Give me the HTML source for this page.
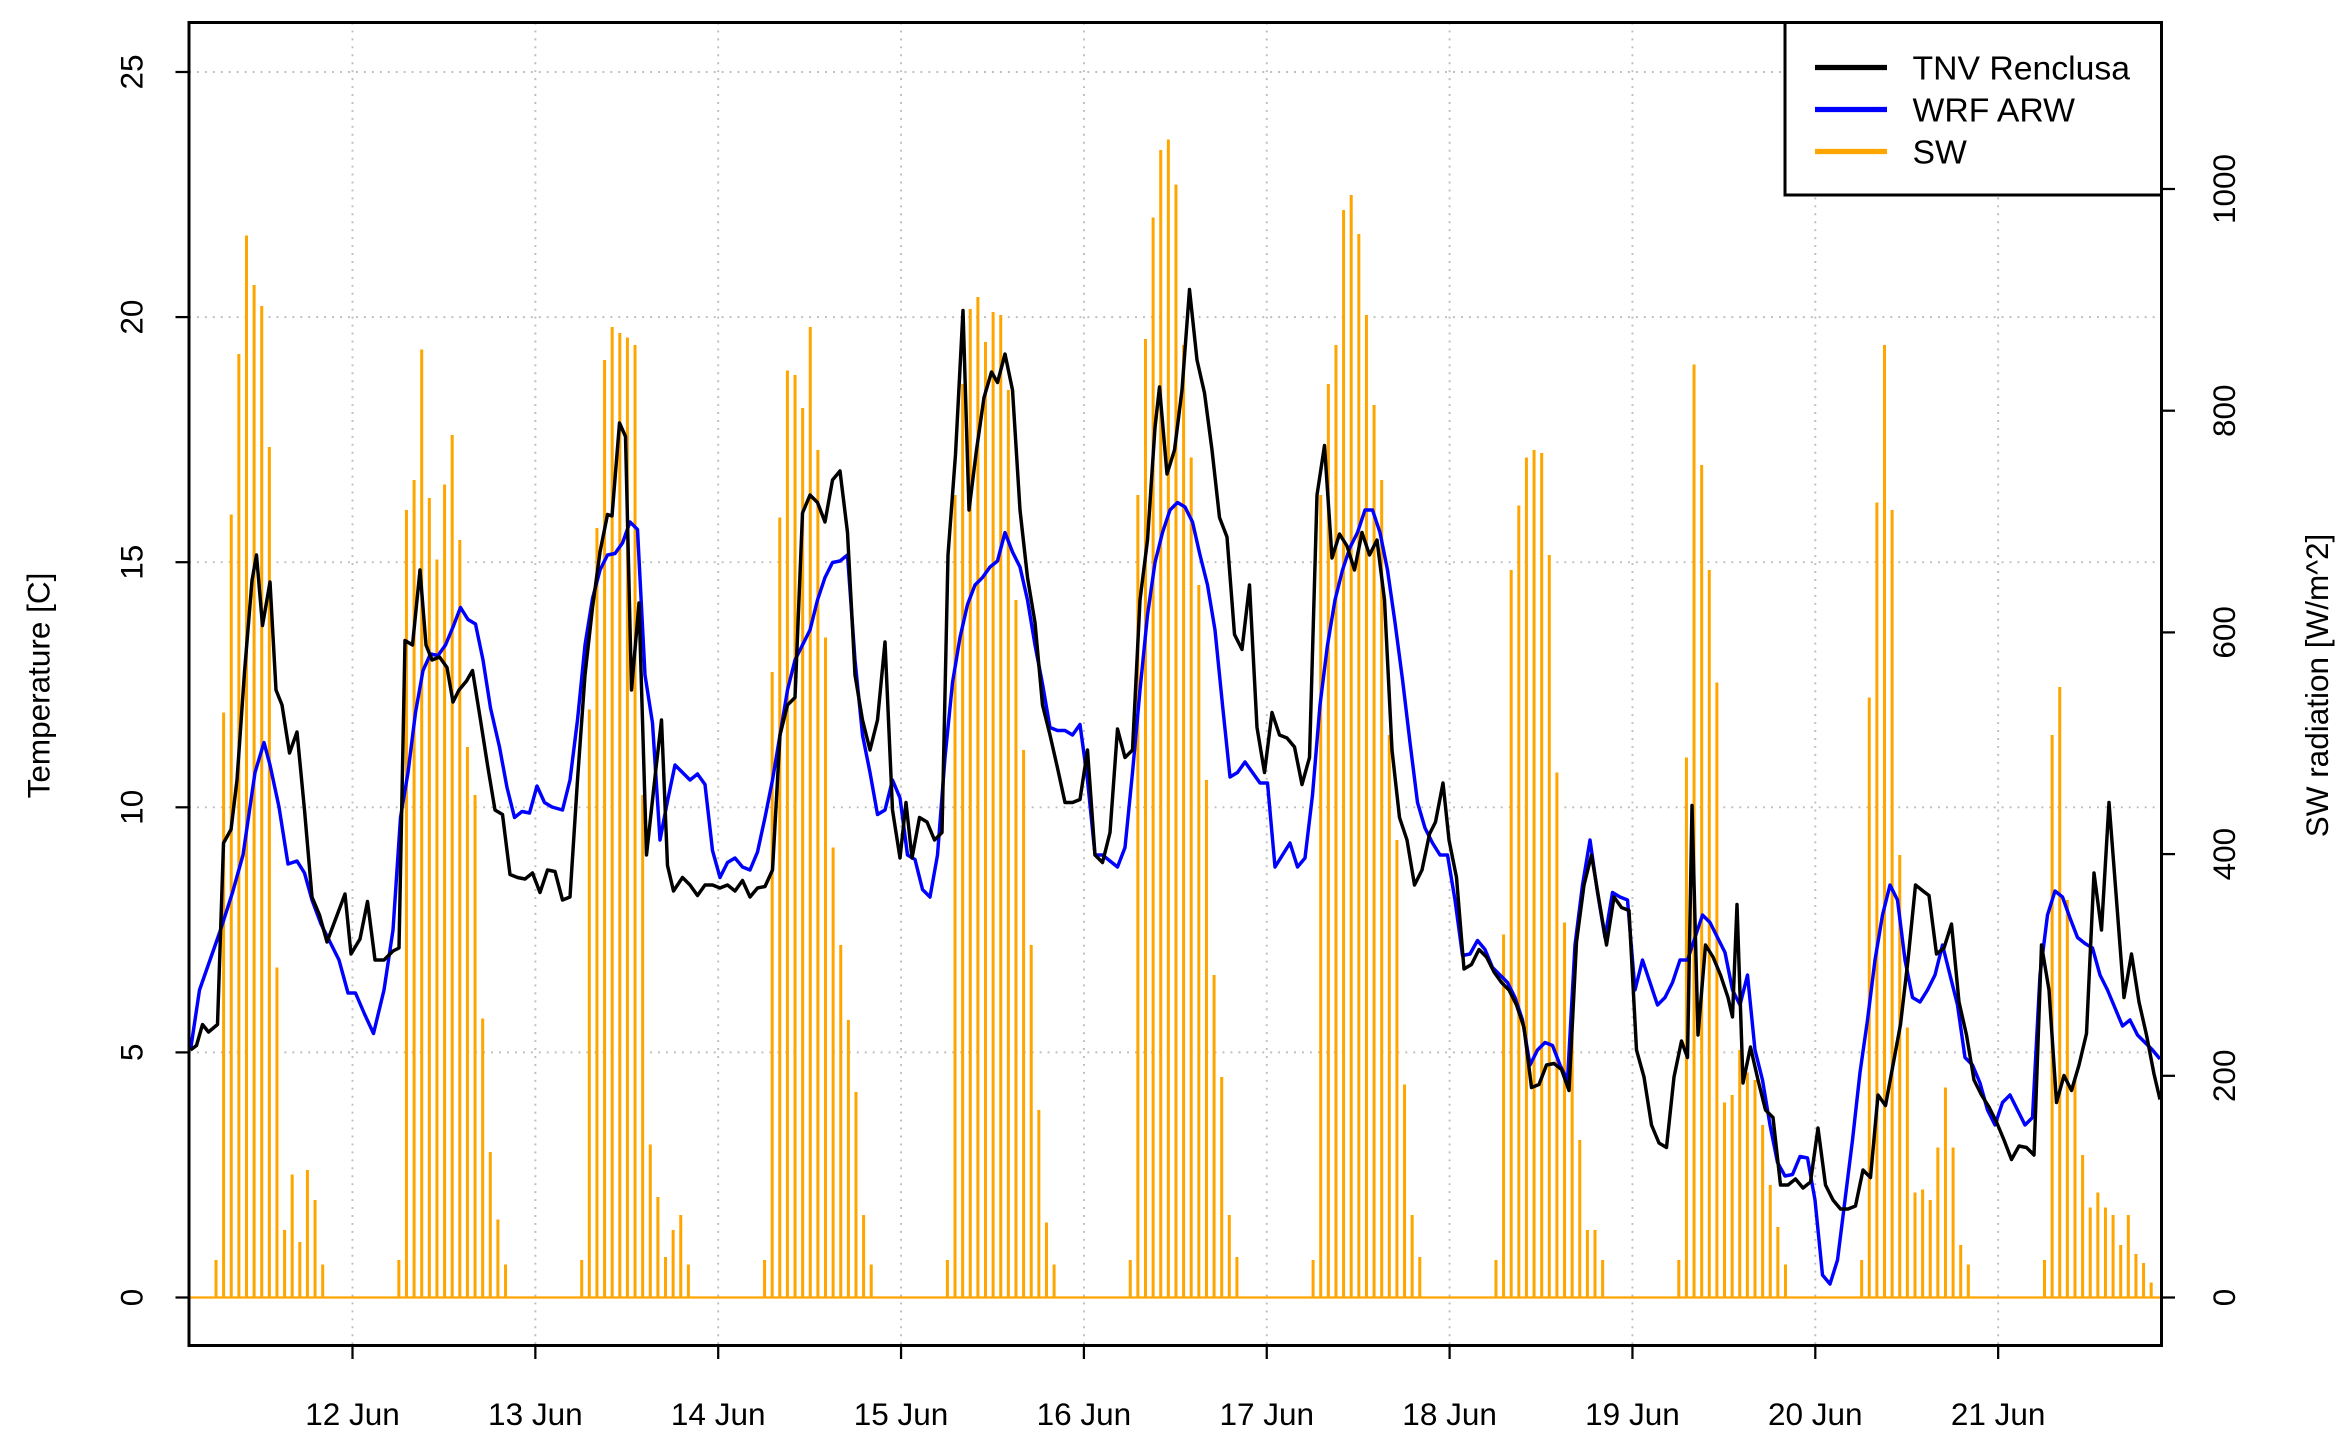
<!DOCTYPE html>
<html><head><meta charset="utf-8"><style>
html,body{margin:0;padding:0;background:#fff;}
svg{display:block;font-family:"Liberation Sans",Arial,sans-serif;}
</style></head><body>
<svg id="s" width="2351" height="1449" viewBox="0 0 1567.33 966" xmlns="http://www.w3.org/2000/svg">
<rect width="1567.33" height="966" fill="#fff"/>
<g id="grid" stroke="#bebebe" stroke-width="1.3" stroke-dasharray="1.3,4"></g>
<g id="bars" stroke="#ffa500" stroke-width="2"></g>
<line x1="127" y1="865" x2="1440" y2="865" stroke="#ffa500" stroke-width="1.5"/>
<polyline id="wrf" fill="none" stroke="#0000ff" stroke-width="2.3" stroke-linejoin="round"/>
<polyline id="tnv" fill="none" stroke="#000" stroke-width="2.3" stroke-linejoin="round"/>
<rect x="126" y="15" width="1315" height="882" fill="none" stroke="#000" stroke-width="2"/>
<g id="ticks" stroke="#000" stroke-width="1.5"></g>
<g id="labels" font-size="21" fill="#000"></g>
<text transform="translate(33,457) rotate(-90)" text-anchor="middle" font-size="21">Temperature [C]</text>
<text transform="translate(1552,457) rotate(-90)" text-anchor="middle" font-size="21">SW radiation [W/m^2]</text>
<rect x="1190" y="15" width="251" height="115" fill="#fff" stroke="#000" stroke-width="2"/>
<line x1="1210" y1="45" x2="1258" y2="45" stroke="#000" stroke-width="3.5"/>
<line x1="1210" y1="73" x2="1258" y2="73" stroke="#0000ff" stroke-width="3.5"/>
<line x1="1210" y1="101" x2="1258" y2="101" stroke="#ffa500" stroke-width="3.5"/>
<text x="1275" y="53" font-size="22.5">TNV Renclusa</text>
<text x="1275" y="81" font-size="22.5">WRF ARW</text>
<text x="1275" y="109" font-size="22.5">SW</text>
</svg>
<script>
var NS="http://www.w3.org/2000/svg";
function el(p,t,a,txt){var e=document.createElementNS(NS,t);for(var k in a)e.setAttribute(k,a[k]);if(txt)e.textContent=txt;document.getElementById(p).appendChild(e);return e;}
for(var d=0;d<10;d++){var x=235+d*121.9;el("grid","line",{x1:x,y1:15,x2:x,y2:897});
el("ticks","line",{x1:x,y1:897,x2:x,y2:906});
el("labels","text",{x:x,y:950,"text-anchor":"middle"},(12+d)+" Jun");}
for(var t=0;t<=25;t+=5){var y=865-t*32.68;el("grid","line",{x1:126,y1:y,x2:1441,y2:y});
el("ticks","line",{x1:126,y1:y,x2:117,y2:y});
el("labels","text",{transform:"translate(95,"+y+") rotate(-90)","text-anchor":"middle"},""+t);}
for(var w=0;w<=1000;w+=200){var y=865-w*0.739;el("ticks","line",{x1:1441,y1:y,x2:1450,y2:y});
el("labels","text",{transform:"translate(1490,"+y+") rotate(-90)","text-anchor":"middle"},""+w);}
var B=[[840,475,343,236,157,190,204,298,645,820,783,828,780,800,843],
[840,340,320,233,332,373,323,290,360,498,530,679,768,813,843],
[840,473,352,240,218,222,225,230,530,763,798,838,820,810,843],
[840,448,345,247,250,272,218,300,425,565,630,680,728,810,843],
[840,330,256,206,198,228,208,210,260,400,500,630,740,815,843],
[840,330,226,145,100,93,123,230,305,390,520,650,718,810,838],
[840,330,256,230,140,130,156,210,270,320,490,560,723,810,838],
[840,623,380,337,305,300,302,370,515,615,690,760,820,820,840],
[840,505,243,310,380,455,735,730,700,715,720,750,790,818,843],
[840,465,335,230,340,570,685,795,793,800,765,725,765,830,843],
[840,490,458,600,720,770,805,795,805,810,830,810,836,842,855]];
for(var d=0;d<B.length;d++)for(var h=0;h<15;h++){var x=113+d*121.9+31+h*5.08;el("bars","line",{x1:x,y1:865,x2:x,y2:B[d][h]});}
document.getElementById("tnv").setAttribute("points","127,700 131,697 135,683 139,688 145,683 149,562 154,553 158,520 163,448 168,387 171,370 175,417 180,388 184,460 188,470 193,502 198,488 203,540 208,598 213,610 218,628 224,612 230,596 234,636 240,626 245,601 250,640 256,640 262,634 266,632 270,427 275,430 280,380 284,430 288,440 293,438 298,445 302,468 306,460 311,454 315,447 320,478 325,510 330,540 335,543 340,583 345,585 350,586 355,582 360,595 365,580 370,581 375,600 380,598 385,520 390,450 395,405 400,368 405,343 408,344 413,282 417,291 421,460 426,402 431,570 437,515 441,480 445,577 449,594 455,585 460,590 465,597 470,590 475,590 480,592 485,590 490,594 495,587 500,598 505,592 510,591 515,580 520,490 525,470 530,465 535,342 540,330 545,335 550,348 555,320 560,314 565,355 570,450 575,480 580,500 585,480 590,428 595,540 600,572 604,535 608,572 613,545 618,548 623,560 628,555 632,370 637,303 642,207 646,340 651,300 656,265 661,248 665,255 670,236 675,260 680,340 685,385 690,415 695,470 700,490 705,512 710,535 715,535 720,533 725,500 730,570 735,575 740,555 745,486 750,505 755,500 760,400 765,360 770,285 773,258 778,316 783,300 788,260 793,193 798,240 803,262 808,300 813,345 818,358 823,423 828,433 833,390 838,485 843,515 848,475 853,490 858,492 863,498 868,523 873,505 878,330 883,297 888,372 893,356 898,364 903,380 908,355 913,370 918,360 923,400 928,500 933,545 938,560 943,590 948,580 953,556 957,548 962,522 966,560 971,585 976,646 981,643 986,633 991,638 996,648 1001,655 1006,660 1011,670 1016,685 1021,725 1026,723 1031,710 1036,709 1041,713 1046,727 1051,628 1056,590 1061,570 1066,600 1071,630 1076,598 1081,605 1086,607 1091,700 1096,718 1101,750 1106,762 1111,765 1116,718 1121,694 1125,705 1128,537 1132,690 1137,630 1142,638 1147,650 1152,665 1155,678 1158,603 1162,722 1167,698 1172,720 1177,740 1182,745 1187,790 1192,790 1197,786 1202,792 1207,788 1212,752 1217,790 1222,800 1227,806 1232,806 1237,804 1242,780 1247,785 1252,730 1257,737 1262,710 1267,683 1272,640 1277,590 1282,594 1286,597 1291,636 1296,632 1301,616 1306,668 1311,690 1316,720 1321,730 1326,738 1331,748 1336,760 1341,773 1346,764 1351,765 1356,770 1361,630 1366,660 1371,735 1376,717 1381,727 1386,710 1391,689 1396,582 1401,620 1406,535 1411,600 1416,665 1421,636 1426,668 1431,690 1436,716 1440,733");
document.getElementById("wrf").setAttribute("points","127,700 133,660 140,640 147,620 155,595 162,570 170,515 176,495 180,510 186,538 192,576 198,574 203,582 208,600 214,616 220,628 226,640 232,662 237,662 243,676 249,689 256,660 262,620 267,545 272,515 277,475 282,447 287,436 292,437 297,430 302,418 307,405 312,413 317,416 322,440 327,472 333,498 338,525 343,545 348,541 353,542 358,524 363,535 368,538 375,540 380,520 385,480 390,430 395,399 400,380 405,370 410,369 415,362 420,348 425,353 430,450 435,482 440,560 445,534 450,510 455,515 460,520 465,516 470,523 475,567 480,585 485,575 490,572 495,578 500,580 505,568 510,545 515,520 520,490 525,460 530,440 535,430 540,420 545,400 550,385 555,375 560,374 565,370 570,440 575,490 580,515 585,543 590,540 595,520 600,532 605,570 610,573 615,593 620,598 625,570 630,505 635,455 640,425 645,403 650,390 655,385 660,378 665,374 670,355 675,368 680,378 685,400 690,430 695,456 700,485 705,487 710,487 715,490 720,483 725,520 730,570 735,570 740,574 745,578 750,565 755,515 760,460 765,410 770,375 775,355 780,340 785,335 790,338 795,348 800,370 805,390 810,420 815,470 820,518 825,515 830,508 835,515 840,522 845,522 850,578 855,570 860,562 865,578 870,572 875,530 880,470 885,430 890,400 895,380 900,365 905,355 910,340 915,340 920,355 925,380 930,415 935,453 940,495 945,535 950,552 955,562 960,570 965,570 970,600 975,637 980,636 985,627 990,633 995,645 1000,650 1005,655 1010,665 1015,680 1020,710 1025,700 1030,695 1035,697 1040,710 1045,720 1050,630 1055,590 1060,560 1065,595 1070,625 1075,595 1080,598 1085,600 1090,660 1095,640 1100,655 1105,670 1110,665 1115,655 1120,640 1125,640 1130,625 1135,610 1140,615 1145,625 1150,635 1155,660 1160,670 1165,650 1170,700 1175,720 1180,750 1185,775 1190,784 1195,783 1200,771 1205,772 1210,800 1215,850 1220,856 1225,840 1230,800 1235,760 1240,715 1245,680 1250,640 1255,610 1260,590 1265,600 1270,640 1275,665 1280,668 1285,660 1290,650 1295,630 1300,650 1305,670 1310,705 1315,710 1320,722 1325,740 1330,750 1335,735 1340,730 1345,740 1350,750 1355,745 1360,650 1365,610 1370,594 1375,598 1380,612 1385,625 1390,629 1395,632 1400,650 1405,660 1410,672 1415,684 1420,680 1425,690 1430,695 1435,700 1440,706");
</script>
</body></html>
